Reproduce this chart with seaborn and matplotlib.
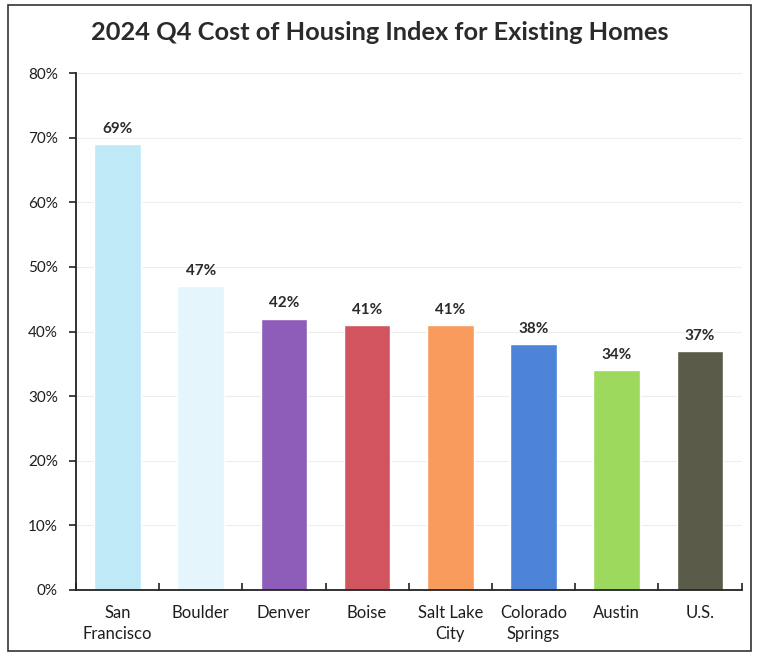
import matplotlib
matplotlib.use("Agg")
import matplotlib.pyplot as plt
import seaborn as sns
import pandas as pd
import numpy as np
from matplotlib.patches import Rectangle
from matplotlib.ticker import FixedLocator, PercentFormatter

cities = ["San\nFrancisco", "Boulder", "Denver", "Boise", "Salt Lake\nCity",
          "Colorado\nSprings", "Austin", "U.S."]
index_pct = [69, 47, 42, 41, 41, 38, 34, 37]
bar_colors = ["#BFE9F7", "#E4F5FB", "#8E5CB9", "#D2545F", "#F89B5C",
              "#4D84D9", "#9CD95C", "#5B5B4A"]
y_ticks = [0, 10, 20, 30, 40, 50, 60, 70, 80]

sns.set_theme(style="white")
plt.rcParams["font.family"] = ["Lato", "DejaVu Sans"]

df = pd.DataFrame({"city": cities, "pct": index_pct})

fig = plt.figure(figsize=(7.59, 6.54), dpi=100)
ax = fig.add_axes([0.100, 0.098, 0.877, 0.790])

sns.barplot(data=df, x="city", y="pct", hue="city", palette=bar_colors,
            legend=False, width=0.56, saturation=1, ax=ax)

for i, v in enumerate(index_pct):
    ax.text(i, v + 1.3, f"{v}%", ha="center", va="bottom",
            fontsize=11, fontweight="bold", color="#2a2a2a")

ax.set_ylim(0, 80)
ax.set_xlim(-0.5, len(cities) - 0.5)
ax.yaxis.set_major_locator(FixedLocator(y_ticks))
ax.yaxis.set_major_formatter(PercentFormatter(decimals=0))
ax.set_xlabel("")
ax.set_ylabel("")

ax.grid(axis="y", color="#EDEDED", linewidth=0.8)
ax.set_axisbelow(True)

for side in ["top", "right"]:
    ax.spines[side].set_visible(False)
for side in ["left", "bottom"]:
    ax.spines[side].set_color("#222222")
    ax.spines[side].set_linewidth(1.3)

ax.tick_params(axis="y", which="major", direction="out", length=5, width=1.2,
               color="#222222", labelsize=11, labelcolor="#1e1e1e", pad=8, left=True)
ax.tick_params(axis="x", which="major", length=0, labelsize=12,
               labelcolor="#1e1e1e", pad=11)
for lbl in ax.get_xticklabels():
    lbl.set_linespacing(1.35)
ax.xaxis.set_minor_locator(FixedLocator(np.arange(-0.5, len(cities) + 0.5, 1)))
ax.tick_params(axis="x", which="minor", direction="in", length=5, width=1.2,
               color="#222222", bottom=True)

fig.text(0.5, 0.950, "2024 Q4 Cost of Housing Index for Existing Homes",
         ha="center", va="center", fontsize=18.3, fontweight="bold", color="#2a2a2a")

fig.patches.append(Rectangle((0.011, 0.005), 0.979, 0.987, transform=fig.transFigure,
                             fill=False, edgecolor="#333333", linewidth=1.2))

fig.savefig("out.png", dpi=100, facecolor="white")
